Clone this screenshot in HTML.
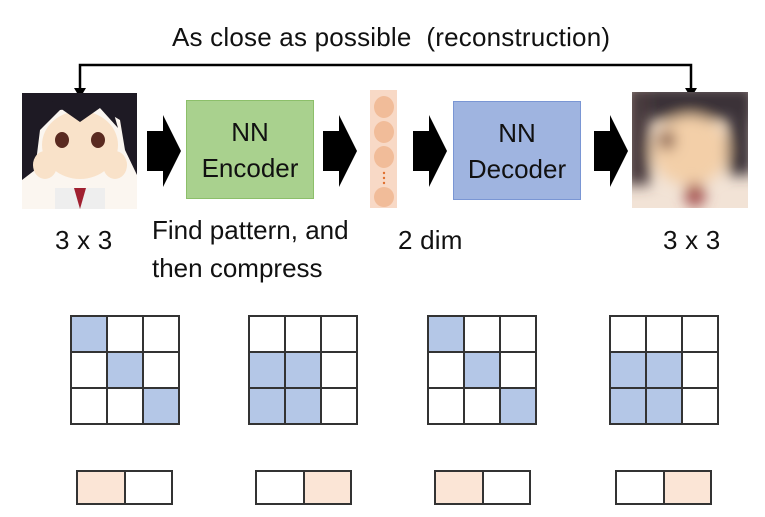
<!DOCTYPE html>
<html><head><style>
body{margin:0;width:765px;height:517px;background:#fff;position:relative;overflow:hidden;font-family:"Liberation Sans",sans-serif;}
.a{position:absolute}
.t{position:absolute;font-size:26px;line-height:30px;color:#111;white-space:nowrap;letter-spacing:0.2px}
.box{position:absolute;display:flex;align-items:center;justify-content:center;text-align:center;font-size:26px;line-height:36px;color:#111}
.g{position:absolute;display:grid;border:1.5px solid #333;box-sizing:border-box}
.g div{border:0.75px solid #333;box-sizing:border-box;background:#fff}
.g .b{background:#b4c7e7}.g .p{background:#fbe5d6}
</style></head><body>
<div class="t" style="left:172px;top:22px;">As close as possible&nbsp; (reconstruction)</div>
<svg class="a" style="left:0;top:0" width="765" height="517">
<polyline points="80,92 80,65 691,65 691,92" fill="none" stroke="#000" stroke-width="2.5"/>
<polygon points="74,88 86,88 80,98" fill="#000"/>
<polygon points="685,88 697,88 691,98" fill="#000"/>
<g fill="#000">
<polygon points="147,131 163,131 163,115 181,151 163,187 163,171 147,171"/>
<polygon points="323,131 339,131 339,115 357,151 339,187 339,171 323,171"/>
<polygon points="413,131 429,131 429,115 447,151 429,187 429,171 413,171"/>
<polygon points="594,131 610,131 610,115 628,151 610,187 610,171 594,171"/>
</g>
<rect x="370" y="90" width="27" height="118" fill="#f8d9c6"/>
<g fill="#f1bc99"><ellipse cx="384" cy="107" rx="10" ry="11"/><ellipse cx="384" cy="132" rx="10" ry="11"/><ellipse cx="384" cy="157" rx="10" ry="11"/><ellipse cx="384" cy="197" rx="10" ry="10"/></g>
<g fill="#e07030"><circle cx="384" cy="173" r="1.2"/><circle cx="384" cy="178" r="1.2"/><circle cx="384" cy="183" r="1.2"/></g>
<rect x="22" y="93" width="115" height="116" fill="#fbf6f0"/>
<path d="M22 93 H137 V175 L125 150 L120 120 L95 105 L60 110 L40 130 L35 170 L22 180 Z" fill="#1e1a24"/>
<ellipse cx="80" cy="145" rx="38" ry="34" fill="#f9e2c9"/>
<path d="M42 125 L60 108 L80 122 L100 108 L118 128 L110 100 L80 95 L50 102Z" fill="#1e1a24"/>
<ellipse cx="62" cy="140" rx="7" ry="8" fill="#5a2a20"/><ellipse cx="98" cy="140" rx="7" ry="8" fill="#5a2a20"/>
<ellipse cx="45" cy="165" rx="12" ry="14" fill="#f9e2c9"/><ellipse cx="115" cy="165" rx="12" ry="14" fill="#f9e2c9"/>
<rect x="55" y="188" width="50" height="21" fill="#eee"/>
<path d="M74 188 L80 209 L86 188Z" fill="#a02030"/>
<defs><filter id="bl"><feGaussianBlur stdDeviation="7"/></filter><clipPath id="cp"><rect x="632" y="92" width="116" height="116"/></clipPath></defs>
<rect x="632" y="92" width="116" height="116" fill="#f2e3d6"/>
<g clip-path="url(#cp)" filter="url(#bl)">
<rect x="625" y="85" width="130" height="35" fill="#3b3038"/>
<rect x="625" y="85" width="25" height="100" fill="#4a3a3e"/>
<rect x="728" y="85" width="25" height="90" fill="#3b3038"/>
<ellipse cx="690" cy="150" rx="38" ry="35" fill="#f3cfa8"/>
<ellipse cx="667" cy="140" rx="8" ry="10" fill="#7b5040"/>
<ellipse cx="695" cy="195" rx="10" ry="12" fill="#a04a4a"/>
</g>
</svg>
<div class="box" style="left:186px;top:100px;width:128px;height:99px;background:#a9d18e;border:1px solid #8cbf6a;box-sizing:border-box">NN<br>Encoder</div>
<div class="box" style="left:453px;top:101px;width:128px;height:99px;background:#9fb4e0;border:1px solid #7a96d4;box-sizing:border-box">NN<br>Decoder</div>
<div class="t" style="left:55px;top:225px">3 x 3</div>
<div class="t" style="left:152px;top:215px;letter-spacing:0">Find pattern, and</div>
<div class="t" style="left:152px;top:253px;letter-spacing:0">then compress</div>
<div class="t" style="left:398px;top:225px">2 dim</div>
<div class="t" style="left:663px;top:225px">3 x 3</div>

<div class="g" style="left:70px;top:315px;width:110px;height:110px;grid-template-columns:repeat(3,1fr)"><div class="b"></div><div></div><div></div><div></div><div class="b"></div><div></div><div></div><div></div><div class="b"></div></div>
<div class="g" style="left:248px;top:315px;width:110px;height:110px;grid-template-columns:repeat(3,1fr)"><div></div><div></div><div></div><div class="b"></div><div class="b"></div><div></div><div class="b"></div><div class="b"></div><div></div></div>
<div class="g" style="left:427px;top:315px;width:110px;height:110px;grid-template-columns:repeat(3,1fr)"><div class="b"></div><div></div><div></div><div></div><div class="b"></div><div></div><div></div><div></div><div class="b"></div></div>
<div class="g" style="left:609px;top:315px;width:110px;height:110px;grid-template-columns:repeat(3,1fr)"><div></div><div></div><div></div><div class="b"></div><div class="b"></div><div></div><div class="b"></div><div class="b"></div><div></div></div>

<div class="g" style="left:76px;top:470px;width:97px;height:35px;grid-template-columns:1fr 1fr"><div class="p"></div><div></div></div>
<div class="g" style="left:255px;top:470px;width:97px;height:35px;grid-template-columns:1fr 1fr"><div></div><div class="p"></div></div>
<div class="g" style="left:434px;top:470px;width:97px;height:35px;grid-template-columns:1fr 1fr"><div class="p"></div><div></div></div>
<div class="g" style="left:615px;top:470px;width:97px;height:35px;grid-template-columns:1fr 1fr"><div></div><div class="p"></div></div>
</body></html>
